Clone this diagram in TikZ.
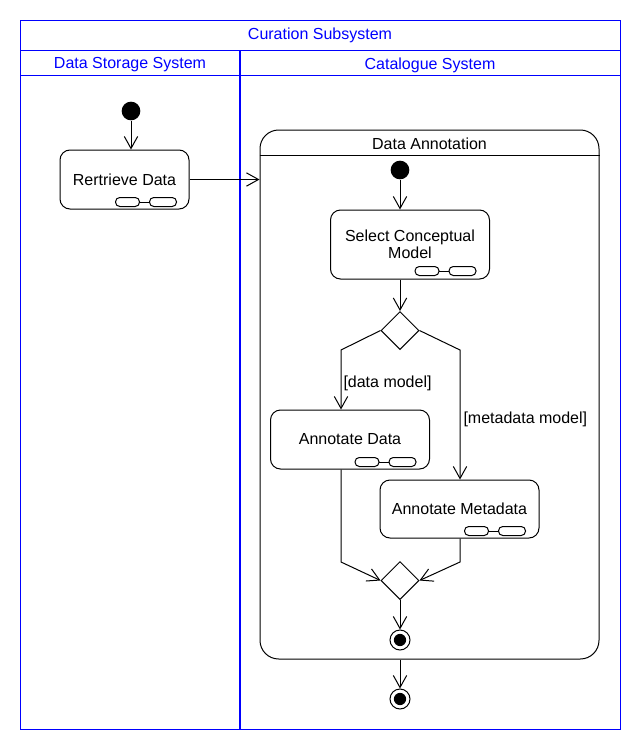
\documentclass[tikz,border=0pt]{standalone}
\usepackage{fontspec}
\setmainfont{Liberation Sans}
\usetikzlibrary{arrows.meta,shapes.geometric}
\definecolor{laneblue}{RGB}{0,0,255}
\begin{document}
\begin{tikzpicture}[x=0.75pt,y=-0.75pt,
  font=\fontsize{12}{14}\selectfont,
  line width=0.75pt,
  flow/.style={-{Straight Barb[length=9pt,width=10pt,line width=0.75pt]}},
  action/.style={draw,rounded corners=7.5pt,align=center,inner sep=0pt},
  startnode/.style={circle,fill=black,minimum size=14pt,inner sep=0pt},
  endnode/.style={circle,draw,minimum size=15pt,inner sep=0pt,
    path picture={\fill (path picture bounding box.center) circle (4.6pt);}},
  choice/.style={diamond,draw,aspect=1,minimum width=28.5pt,minimum height=28.5pt,inner sep=0pt},
  guard/.style={anchor=west,inner sep=0pt},
  lanetext/.style={text=laneblue,inner sep=0pt},
  rake/.pic={
    \draw[rounded corners=3.2pt] (-61,-9) rectangle (-37,0);
    \draw (-37,-4.5) -- (-27,-4.5);
    \draw[rounded corners=3.2pt] (-27,-9) rectangle (0,0);
  }]
\useasboundingbox (0,0) rectangle (640,750);

% swimlane frame
\draw[laneblue,line width=0.75pt] (20,20) rectangle (620,729);
\draw[laneblue,line width=0.75pt] (20,50) -- (620,50);
\draw[laneblue,line width=0.75pt] (20,75) -- (620,75);
\draw[laneblue,line width=1.6pt] (240,50) -- (240,729);
\node[lanetext] (title) at (320,35) {Curation Subsystem};
\node[lanetext] (laneA) at (130,65) {Data Storage System};
\node[lanetext] (laneB) at (430,65) {Catalogue System};

% data storage lane
\node[startnode] (i1) at (131,111) {};
\node[action,minimum width=129*0.75pt,minimum height=59*0.75pt] (ret) at (124.5,179.5) {Rertrieve Data};
\pic at ([shift={(-13,-3)}]ret.south east) {rake};
\draw[flow] (i1) -- (i1 |- ret.north);

% structured activity
\node[draw,rounded corners=14pt,minimum width=339*0.75pt,minimum height=529*0.75pt,inner sep=0pt] (cont) at (429.5,394.5) {};
\draw (cont.west |- 0,155) -- (cont.east |- 0,155);
\node[inner sep=0pt] (contTitle) at (429.5,144) {Data Annotation};
\draw[flow] (ret.east) -- (ret.east -| cont.west);

\node[startnode] (i2) at (400,170) {};
\node[action,minimum width=159*0.75pt,minimum height=69*0.75pt] (sel) at (410,244.5) {Select Conceptual\\[-1pt]Model};
\pic at ([shift={(-14,-4)}]sel.south east) {rake};
\draw[flow] (i2) -- (i2 |- sel.north);

\node[choice] (d1) at (400,330.5) {};
\draw[flow] (d1 |- sel.south) -- (d1.north);

\node[action,minimum width=159*0.75pt,minimum height=59*0.75pt] (ad) at (350,439.5) {Annotate Data};
\pic at ([shift={(-14,-3)}]ad.south east) {rake};
\node[action,minimum width=159*0.75pt,minimum height=58*0.75pt] (am) at (459.5,509) {Annotate Metadata};
\pic at ([shift={(-14,-3)}]am.south east) {rake};

\coordinate (bl) at (341,350);
\coordinate (br) at (460,350);
\draw[flow] (d1.west) -- (bl) -- (bl |- ad.north);
\draw[flow] (d1.east) -- (br) -- (br |- am.north);
\node[guard] (gdata) at (343,383) {[data model]};
\node[guard] (gmeta) at (463,419) {[metadata model]};

\node[choice] (d2) at (400,580.5) {};
\coordinate (ml) at (341,562);
\coordinate (mr) at (460,562);
\draw[flow] (bl |- ad.south) -- (ml) -- (d2.west);
\draw[flow] (br |- am.south) -- (mr) -- (d2.east);

\node[endnode] (f1) at (400,640) {};
\draw[flow] (d2.south) -- (f1.north);

\node[endnode] (f2) at (400,699) {};
\draw[flow] (f2 |- cont.south) -- (f2.north);
\end{tikzpicture}
\end{document}
